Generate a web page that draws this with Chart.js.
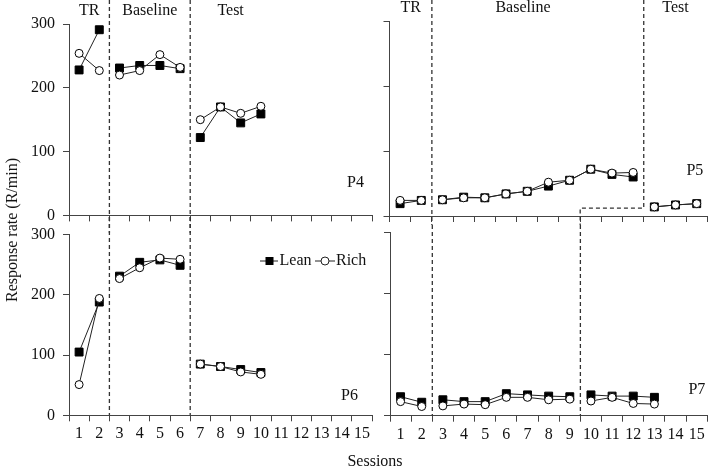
<!doctype html>
<html lang="en">
<head>
<meta charset="utf-8">
<script src="https://cdn.jsdelivr.net/npm/chart.js"></script>
<title>Response rate by session</title>
<style>
  body { margin: 0; background: #fff; }
  #wrap { position: relative; width: 709px; height: 468px; font-family: "Liberation Serif", serif; color: #111; }
  canvas { position: absolute; }
  .ytitle { position: absolute; left: 12px; top: 230px; transform: translate(-50%, -50%) rotate(-90deg); white-space: nowrap; font-size: 16px; }
  .xtitle { position: absolute; left: 375px; top: 461px; transform: translate(-50%, -50%); white-space: nowrap; font-size: 16px; }
</style>
</head>
<body>
<div id="wrap">
  <canvas id="p4" width="380" height="233" style="left:0;top:0"></canvas>
  <canvas id="p5" width="329" height="225" style="left:380px;top:0"></canvas>
  <canvas id="p6" width="380" height="251" style="left:0;top:217px"></canvas>
  <canvas id="p7" width="329" height="243" style="left:380px;top:225px"></canvas>
  <div class="ytitle">Response rate (R/min)</div>
  <div class="xtitle">Sessions</div>
</div>

<script>
// sessions on the x axis
const sessions = ['1','2','3','4','5','6','7','8','9','10','11','12','13','14','15'];

// P4 (top left)
const p4Lean = [228, 291, 231, 235, 235, 230, 122, 170, 145, 159, null, null, null, null, null];
const p4Rich = [254, 227, 220, 227, 252, 232, 150, 170, 160, 171, null, null, null, null, null];
// P5 (top right)
const p5Lean = [19, 24, 25, 29, 28, 34, 38, 46, 55, 72, 64, 60, 14, 17, 19];
const p5Rich = [24, 24, 25, 28, 28, 34, 38, 52, 55, 72, 66, 67, 14, 17, 19];
// P6 (bottom left)
const p6Lean = [105, 188, 231, 254, 258, 249, 85, 81, 76, 71, null, null, null, null, null];
const p6Rich = [51, 194, 227, 245, 261, 259, 85, 81, 72, 68, null, null, null, null, null];
// P7 (bottom right)
const p7Lean = [31, 22, 26, 23, 23, 36, 34, 32, 31, 34, 32, 32, 30, null, null];
const p7Rich = [23, 15, 16, 19, 18, 30, 30, 26, 27, 24, 30, 20, 19, null, null];

const FONT = '"Liberation Serif", serif';

// dashed phase lines, phase names, panel name and legend
const panelDecor = {
  id: 'panelDecor',
  beforeDatasetsDraw(chart, args, o) {
    const { ctx, chartArea: a, scales: { y } } = chart;
    const step = (a.right - a.left) / sessions.length;
    const px = k => a.left + k * step;
    const py = v => v === 'top' ? 0 : v === 'edge' ? chart.height : v === 'axis' ? a.bottom : y.getPixelForValue(v);
    ctx.save();
    ctx.strokeStyle = '#333';
    ctx.lineWidth = 1.3;
    ctx.setLineDash([4, 3]);
    (o.paths || []).forEach(path => {
      ctx.beginPath();
      path.forEach(([k, v], i) => i ? ctx.lineTo(px(k), py(v)) : ctx.moveTo(px(k), py(v)));
      ctx.stroke();
    });
    ctx.restore();
  },
  afterDraw(chart, args, o) {
    const { ctx, chartArea: a } = chart;
    const step = (a.right - a.left) / sessions.length;
    ctx.save();
    ctx.fillStyle = '#111';
    ctx.font = '16px ' + FONT;
    ctx.textBaseline = 'middle';
    ctx.textAlign = 'center';
    (o.phases || []).forEach(p => ctx.fillText(p.text, a.left + p.k * step, a.top - 13));
    ctx.textAlign = 'right';
    ctx.fillText(o.name, a.right - o.nameDx, a.bottom - o.nameDy);
    if (o.legend) {
      const ly = 44;
      ctx.strokeStyle = '#222';
      ctx.lineWidth = 1;
      ctx.beginPath(); ctx.moveTo(260, ly); ctx.lineTo(278, ly); ctx.stroke();
      ctx.fillStyle = '#000';
      ctx.fillRect(265.5, ly - 4, 8, 8);
      ctx.beginPath(); ctx.moveTo(315, ly); ctx.lineTo(335, ly); ctx.stroke();
      ctx.beginPath(); ctx.arc(325, ly, 4, 0, Math.PI * 2);
      ctx.fillStyle = '#fff'; ctx.fill(); ctx.stroke();
      ctx.fillStyle = '#111';
      ctx.textAlign = 'left';
      ctx.fillText('Lean', 279.5, ly);
      ctx.fillText('Rich', 336, ly);
    }
    ctx.restore();
  }
};

function gapAfter(breaks) {
  return ctx => breaks.includes(ctx.p0DataIndex) ? 'transparent' : undefined;
}

function panel(id, lean, rich, cfg) {
  const axisColor = '#444';
  return new Chart(document.getElementById(id), {
    type: 'line',
    data: {
      labels: sessions,
      datasets: [
        {
          label: 'Rich', data: rich, order: 0,
          borderColor: '#222', borderWidth: 1,
          pointStyle: 'circle', pointRadius: 4,
          pointBackgroundColor: '#fff', pointBorderColor: '#000', pointBorderWidth: 1,
          segment: { borderColor: gapAfter(cfg.breaks) }
        },
        {
          label: 'Lean', data: lean, order: 1,
          borderColor: '#222', borderWidth: 1,
          pointStyle: 'rect', pointRadius: 5.6,
          pointBackgroundColor: '#000', pointBorderColor: '#000', pointBorderWidth: 1,
          segment: { borderColor: gapAfter(cfg.breaks) }
        }
      ]
    },
    options: {
      responsive: false,
      animation: false,
      layout: { padding: cfg.pad, autoPadding: false },
      scales: {
        x: {
          type: 'category',
          offset: true,
          grid: { offset: true, drawOnChartArea: false, tickLength: 6, color: axisColor },
          border: { color: axisColor },
          ticks: { display: cfg.xLabels, autoSkip: false, maxRotation: 0, padding: 3, color: '#111', font: { family: FONT, size: 16 } },
          afterFit: s => { s.height = cfg.xh; }
        },
        y: {
          min: 0, max: 300,
          grid: { drawOnChartArea: false, tickLength: 6, color: axisColor },
          border: { color: axisColor },
          ticks: { stepSize: 100, display: cfg.yLabels, padding: 8, color: '#111', font: { family: FONT, size: 16 } },
          afterFit: s => { s.width = cfg.yw; }
        }
      },
      plugins: {
        legend: { display: false },
        tooltip: { enabled: false },
        panelDecor: cfg.decor
      }
    },
    plugins: [panelDecor]
  });
}

panel('p4', p4Lean, p4Rich, {
  breaks: [1, 5], xLabels: false, yLabels: true, xh: 6, yw: 69,
  pad: { left: 0, top: 24, right: 8, bottom: 4 },
  decor: {
    paths: [[[2, 'top'], [2, 'edge']], [[6, 'top'], [6, 'edge']]],
    phases: [{ text: 'TR', k: 1 }, { text: 'Baseline', k: 4 }, { text: 'Test', k: 8 }],
    name: 'P4', nameDx: 8, nameDy: 33
  }
});

panel('p5', p5Lean, p5Rich, {
  breaks: [1, 11], xLabels: false, yLabels: false, xh: 6, yw: 9.5,
  pad: { left: 0, top: 21, right: 1.7, bottom: 3 },
  decor: {
    paths: [[[2, 'top'], [2, 'edge']], [[12, 'top'], [12, 12], [9, 12], [9, 'edge']]],
    phases: [{ text: 'TR', k: 1 }, { text: 'Baseline', k: 6.3 }, { text: 'Test', k: 13.5 }],
    name: 'P5', nameDx: 4, nameDy: 45
  }
});

panel('p6', p6Lean, p6Rich, {
  breaks: [1, 5], xLabels: true, yLabels: true, xh: 40, yw: 69,
  pad: { left: 0, top: 10, right: 8, bottom: 12.7 },
  decor: {
    paths: [[[2, 'top'], [2, 'axis']], [[6, 'top'], [6, 'axis']]],
    name: 'P6', nameDx: 14, nameDy: 20, legend: true
  }
});

panel('p7', p7Lean, p7Rich, {
  breaks: [1, 8], xLabels: true, yLabels: false, xh: 40, yw: 10,
  pad: { left: 0, top: 7, right: 1.7, bottom: 12.3 },
  decor: {
    paths: [[[2, 'top'], [2, 'axis']], [[9, 'top'], [9, 'axis']]],
    name: 'P7', nameDx: 2, nameDy: 26
  }
});
</script>
</body>
</html>
